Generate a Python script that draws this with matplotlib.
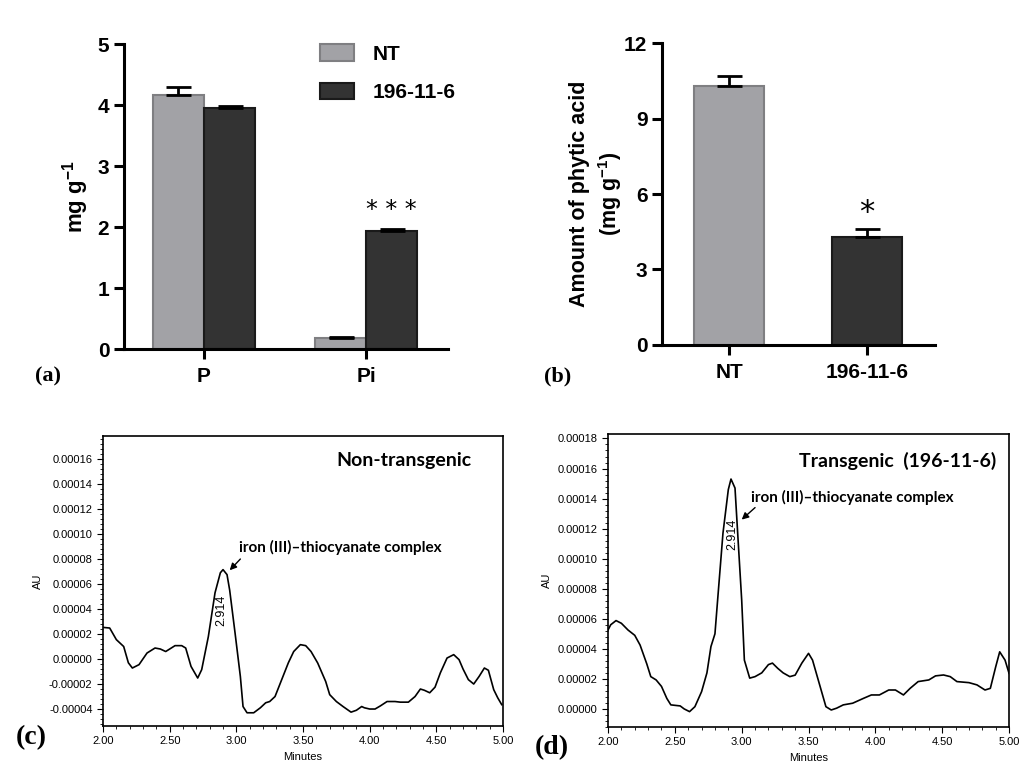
import numpy as np
import matplotlib
matplotlib.use("Agg")
import matplotlib.pyplot as plt
from matplotlib.ticker import MultipleLocator, FormatStrFormatter

# panel (a): total P and inorganic Pi
cats_a = ["P", "Pi"]
nt_a = [4.17, 0.18]
nt_a_err = [0.13, 0.02]
tg_a = [3.95, 1.93]
tg_a_err = [0.04, 0.03]

# panel (b): phytic acid
cats_b = ["NT", "196-11-6"]
vals_b = [10.3, 4.3]
err_b = [0.4, 0.3]

# panel (c): non-transgenic chromatogram
t_c = [2.00, 2.05, 2.10, 2.155, 2.19, 2.22, 2.27, 2.33, 2.39, 2.43, 2.47, 2.50, 2.54, 2.59,
       2.62, 2.66, 2.71, 2.74, 2.79, 2.84, 2.88, 2.90, 2.93, 2.95, 2.99, 3.03, 3.05, 3.08,
       3.13, 3.18, 3.22, 3.25, 3.29, 3.34, 3.39, 3.43, 3.48, 3.52, 3.56, 3.61, 3.67, 3.70,
       3.75, 3.80, 3.86, 3.90, 3.94, 3.96, 4.00, 4.04, 4.08, 4.13, 4.19, 4.23, 4.29, 4.34,
       4.38, 4.41, 4.45, 4.49, 4.53, 4.58, 4.63, 4.67, 4.70, 4.74, 4.78, 4.82, 4.86, 4.89,
       4.93, 4.96, 4.99]
au_c = [2.53, 2.48, 1.55, 1.0, -0.3, -0.72, -0.45, 0.48, 0.88, 0.8, 0.6, 0.8, 1.07, 1.07,
        0.88, -0.59, -1.52, -0.85, 1.8, 5.3, 6.9, 7.15, 6.75, 5.5, 2.1, -1.4, -3.8, -4.3,
        -4.3, -3.9, -3.5, -3.4, -3.0, -1.65, -0.3, 0.6, 1.15, 1.07, 0.6, -0.32, -1.8, -2.85,
        -3.4, -3.8, -4.25, -4.1, -3.8, -3.9, -4.0, -4.0, -3.75, -3.4, -3.4, -3.45, -3.45, -3.0,
        -2.4, -2.5, -2.7, -2.25, -1.1, 0.08, 0.35, -0.05, -0.8, -1.65, -2.0, -1.4, -0.72, -0.9,
        -2.45, -3.1, -3.65]

# panel (d): transgenic chromatogram
t_d = [2.00, 2.02, 2.06, 2.10, 2.15, 2.20, 2.24, 2.29, 2.32, 2.36, 2.40, 2.44, 2.47, 2.54,
       2.57, 2.61, 2.65, 2.70, 2.74, 2.77, 2.80, 2.82, 2.86, 2.90, 2.92, 2.95, 2.97, 3.00,
       3.02, 3.06, 3.10, 3.15, 3.20, 3.23, 3.27, 3.31, 3.36, 3.40, 3.45, 3.50, 3.53, 3.58,
       3.63, 3.67, 3.71, 3.76, 3.83, 3.91, 3.97, 4.03, 4.10, 4.15, 4.21, 4.26, 4.32, 4.40,
       4.45, 4.51, 4.56, 4.61, 4.70, 4.76, 4.82, 4.86, 4.90, 4.93, 4.97, 5.00]
au_d = [5.25, 5.6, 5.88, 5.7, 5.25, 4.9, 4.25, 3.0, 2.15, 1.93, 1.5, 0.7, 0.27, 0.2,
        0.0, -0.18, 0.15, 1.15, 2.4, 4.15, 5.0, 7.25, 11.7, 14.6, 15.3, 14.7, 11.7, 7.25,
        3.25, 2.05, 2.15, 2.4, 2.95, 3.05, 2.7, 2.4, 2.15, 2.25, 3.05, 3.7, 3.25, 1.7,
        0.15, -0.07, 0.05, 0.27, 0.38, 0.7, 0.93, 0.93, 1.26, 1.26, 0.93, 1.37, 1.82, 1.93,
        2.2, 2.26, 2.15, 1.82, 1.75, 1.6, 1.26, 1.37, 2.8, 3.8, 3.25, 2.37]

NT_COL = "#a2a2a6"
NT_EDGE = "#7f7f82"
TG_COL = "#333333"
TG_EDGE = "#1a1a1a"

plt.rcParams["font.family"] = ["Liberation Sans", "DejaVu Sans"]
plt.rcParams["mathtext.fontset"] = "custom"
plt.rcParams["mathtext.bf"] = "Liberation Sans:bold"
plt.rcParams["mathtext.rm"] = "Liberation Sans"

fig = plt.figure(figsize=(10.21, 7.78), dpi=100)


def style_bar_axes(ax):
  for s in ["top", "right"]:
    ax.spines[s].set_visible(False)
  for s in ["left", "bottom"]:
    ax.spines[s].set_linewidth(2.2)
  ax.tick_params(width=2.2, length=7, labelsize=15)
  ax.tick_params(axis="x", pad=6)
  for lab in ax.get_xticklabels() + ax.get_yticklabels():
    lab.set_fontweight("bold")


# ---- (a)
ax = fig.add_axes([0.1214, 0.5514, 0.3174, 0.392])
x = np.arange(len(cats_a))
w = 0.315
ax.bar(x - w/2, nt_a, w, color=NT_COL, edgecolor=NT_EDGE, linewidth=1.5, label="NT", zorder=2)
ax.bar(x + w/2, tg_a, w, color=TG_COL, edgecolor=TG_EDGE, linewidth=1.5, label="196-11-6", zorder=2)
ax.errorbar(x - w/2, nt_a, yerr=[np.zeros(2), nt_a_err], fmt="none", ecolor="black",
            elinewidth=2, capsize=9, capthick=2, zorder=3)
ax.errorbar(x + w/2, tg_a, yerr=[np.zeros(2), tg_a_err], fmt="none", ecolor="black",
            elinewidth=2, capsize=9, capthick=2, zorder=3)
ax.set_xlim(-0.494, 1.506)
ax.set_ylim(0, 5)
ax.set_xticks(x)
ax.set_xticklabels(cats_a)
ax.set_yticks([0, 1, 2, 3, 4, 5])
ax.set_ylabel("mg g$^{\\mathbf{-1}}$", fontsize=16, fontweight="bold", labelpad=5)
style_bar_axes(ax)
ax.text(x[1] + w/2, tg_a[1] + tg_a_err[1] + 0.12, "* * *", ha="center", va="bottom",
        fontsize=17, family="DejaVu Sans")
ax.legend(loc="upper left", bbox_to_anchor=(0.548, 1.06), frameon=False,
          prop={"size": 15, "weight": "bold"}, handlelength=1.63, handleheight=0.82,
          labelspacing=0.9, handletextpad=0.9)
fig.text(0.034, 0.516, "(a)", fontsize=16, fontweight="bold", family="Liberation Serif",
         va="center")

# ---- (b)
ax = fig.add_axes([0.6484, 0.5566, 0.2674, 0.388])
xb = np.arange(len(cats_b))
ax.bar(xb, vals_b, 0.507, color=[NT_COL, TG_COL], edgecolor=[NT_EDGE, TG_EDGE],
       linewidth=1.5, zorder=2)
ax.errorbar(xb, vals_b, yerr=[np.zeros(2), err_b], fmt="none", ecolor="black",
            elinewidth=2, capsize=9, capthick=2, zorder=3)
ax.set_xlim(-0.486, 1.493)
ax.set_ylim(0, 12)
ax.set_xticks(xb)
ax.set_xticklabels(cats_b)
ax.set_yticks([0, 3, 6, 9, 12])
ax.set_ylabel("Amount of phytic acid\n(mg g$^{\\mathbf{-1}}$)", fontsize=15.5,
              fontweight="bold", labelpad=0, linespacing=1.3)
style_bar_axes(ax)
ax.text(xb[1], vals_b[1] + err_b[1] + 0.1, "*", ha="center", va="bottom",
        fontsize=22, family="DejaVu Sans")
fig.text(0.533, 0.516, "(b)", fontsize=16, fontweight="bold", family="Liberation Serif",
         va="center")


# ---- chromatograms
def style_chrom(ax, ylo, yhi, ymaj):
  ax.set_xlim(2.0, 5.0)
  ax.set_ylim(ylo, yhi)
  ax.xaxis.set_major_locator(MultipleLocator(0.5))
  ax.xaxis.set_minor_locator(MultipleLocator(0.1))
  ax.xaxis.set_major_formatter(FormatStrFormatter("%.2f"))
  ax.set_yticks(ymaj)
  ax.yaxis.set_minor_locator(MultipleLocator(0.000004))
  ax.yaxis.set_major_formatter(FormatStrFormatter("%.5f"))
  ax.tick_params(which="major", length=4, width=0.8, labelsize=8, direction="out")
  ax.tick_params(which="minor", length=2, width=0.6)
  for s in ax.spines.values():
    s.set_linewidth(1.2)
  ax.set_xlabel("Minutes", fontsize=8, labelpad=4)
  ax.set_ylabel("AU", fontsize=8, labelpad=4)


ax = fig.add_axes([0.1009, 0.0668, 0.3918, 0.3728])
ax.plot(t_c, np.array(au_c) * 1e-5, color="black", linewidth=1.2)
style_chrom(ax, -0.0000536, 0.0001784, np.arange(-0.00004, 0.000161, 0.00002))
ax.text(0.92, 0.914, "Non-transgenic", transform=ax.transAxes, ha="right", va="center",
        fontsize=14, fontweight="bold", family="Lato")
ax.annotate("", xy=(2.95, 7.1e-5), xytext=(3.03, 8.0e-5),
            arrowprops=dict(arrowstyle="-|>", color="black", lw=1, mutation_scale=10,
                            shrinkA=0, shrinkB=0))
ax.text(3.02, 8.9e-5, "iron (III)\u2013thiocyanate complex", ha="left", va="center",
        fontsize=11, fontweight="bold", family="Lato")
ax.text(2.89, 3.9e-5, "2.914", rotation=90, ha="center", va="center", fontsize=9)
fig.text(0.015, 0.052, "(c)", fontsize=20, fontweight="bold", family="Liberation Serif",
         va="center")

ax = fig.add_axes([0.5955, 0.0656, 0.3928, 0.3766])
ax.plot(t_d, np.array(au_d) * 1e-5, color="black", linewidth=1.2)
style_chrom(ax, -0.000012, 0.000183, np.arange(0, 0.000181, 0.00002))
ax.text(0.968, 0.908, "Transgenic  (196-11-6)", transform=ax.transAxes, ha="right",
        va="center", fontsize=14, fontweight="bold", family="Lato")
ax.annotate("", xy=(3.0, 12.6e-5), xytext=(3.10, 13.4e-5),
            arrowprops=dict(arrowstyle="-|>", color="black", lw=1, mutation_scale=10,
                            shrinkA=0, shrinkB=0))
ax.text(3.07, 14.1e-5, "iron (III)\u2013thiocyanate complex", ha="left", va="center",
        fontsize=11, fontweight="bold", family="Lato")
ax.text(2.93, 11.6e-5, "2.914", rotation=90, ha="center", va="center", fontsize=9)
fig.text(0.524, 0.039, "(d)", fontsize=20, fontweight="bold", family="Liberation Serif",
         va="center")

fig.savefig("out.png", dpi=100)
